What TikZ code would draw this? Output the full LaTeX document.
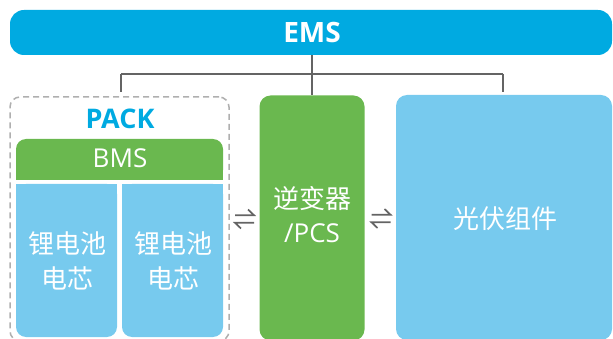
\documentclass[tikz,border=0pt]{standalone}
\usepackage{fontspec}
\setmainfont{Open Sans}
\newfontfamily\cjk{Noto Sans CJK SC}
\definecolor{emsblue}{RGB}{0,170,225}
\definecolor{boxgreen}{RGB}{106,184,79}
\definecolor{lightblue}{RGB}{119,202,238}
\definecolor{linegray}{RGB}{100,100,100}
\definecolor{dashgray}{RGB}{175,175,175}
\begin{document}
\begin{tikzpicture}[x=1pt,y=-1pt,
  box/.style={rectangle, rounded corners=11pt, inner sep=0pt, text=white, align=center},
  lbl/.style={inner sep=0pt, text=white, align=center, font=\fontsize{26}{34}\selectfont},
  conn/.style={draw=linegray, line width=1.6pt},
  harp/.style={draw=linegray, line width=1.7pt}
]
\useasboundingbox (0,0) rectangle (613,339);
\clip (0,0) rectangle (613,339);
% EMS
\node[box, fill=emsblue, rounded corners=14pt, minimum width=602pt, minimum height=45pt] (ems) at (311,32.5) {};
\node[lbl, font=\bfseries\fontsize{28}{30}\selectfont] (emslbl) at (312,32.5) {EMS};
% PACK dashed frame
\node[box, draw=dashgray, line width=1.5pt, dash pattern=on 6pt off 4pt, rounded corners=10pt, minimum width=219pt, minimum height=244pt] (pack) at (119.5,219) {};
\node[inner sep=0pt, text=emsblue, font=\bfseries\fontsize{27}{30}\selectfont] (packlbl) at (120,119) {PACK};
% BMS
\fill[boxgreen] (16,160) rectangle (223,180);
\node[box, fill=boxgreen, rounded corners=10pt, minimum width=207pt, minimum height=41pt] (bms) at (119.5,159.5) {};
\node[lbl] (bmslbl) at (120,158.5) {BMS};
% cells
\fill[lightblue] (16,184) rectangle (117,250);
\node[box, fill=lightblue, rounded corners=10pt, minimum width=101pt, minimum height=153pt] (cell1) at (66.5,260.5) {};
\node[lbl, font=\cjk\fontsize{26}{35}\selectfont] (cell1lbl) at (67,260.5) {锂电池\\电芯};
\fill[lightblue] (122,184) rectangle (223,250);
\node[box, fill=lightblue, rounded corners=10pt, minimum width=101pt, minimum height=153pt] (cell2) at (172.5,260.5) {};
\node[lbl, font=\cjk\fontsize{26}{35}\selectfont] (cell2lbl) at (173,260.5) {锂电池\\电芯};
% inverter
\node[box, fill=boxgreen, rounded corners=11pt, minimum width=105pt, minimum height=245pt] (pcs) at (312,218) {};
\node[lbl] (pcslbl) at (312,215) {{\cjk 逆变器}\\/PCS};
% PV
\node[box, fill=lightblue, rounded corners=11pt, minimum width=216pt, minimum height=245pt] (pv) at (504,217.5) {};
\node[lbl, font=\cjk\fontsize{26}{34}\selectfont] (pvlbl) at (505,219) {光伏组件};
% swap harpoons
\coordinate (sw1) at (244.5,219);
\coordinate (sw2) at (381,218.5);
\foreach \c in {sw1,sw2}{
  \draw[harp, line join=miter] ([xshift=-9.5pt,yshift=3.8pt]\c) -- ([xshift=9.5pt,yshift=3.8pt]\c) -- ([xshift=3.5pt,yshift=9.5pt]\c);
  \draw[harp, line join=miter] ([xshift=9.5pt,yshift=-3.8pt]\c) -- ([xshift=-9.5pt,yshift=-3.8pt]\c) -- ([xshift=-3.5pt,yshift=-9.5pt]\c);
}
% connectors
\coordinate (bl) at (121,74);
\coordinate (br) at (503,74);
\draw[conn] (ems.south -| pcs.north) -- (pcs.north);
\draw[conn] (bl) -- (br);
\draw[conn, shorten >=4pt] (bl) -- (bl |- pack.north);
\draw[conn, shorten >=3pt] (br) -- (br |- pv.north);
\end{tikzpicture}
\end{document}
